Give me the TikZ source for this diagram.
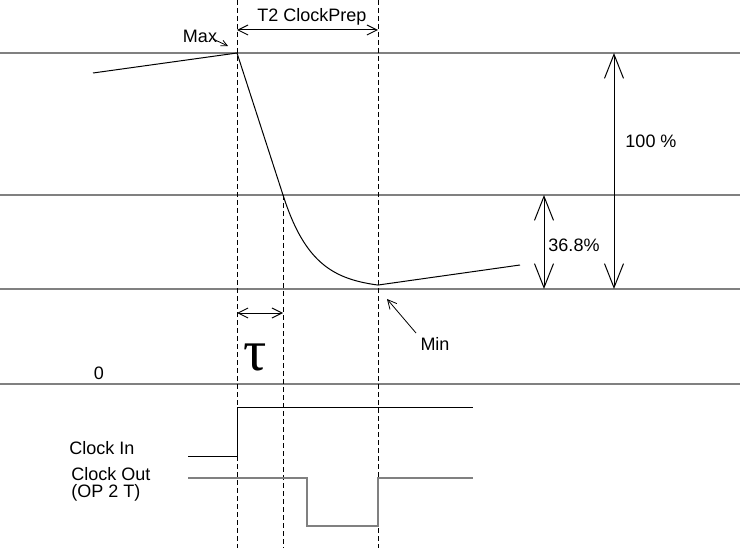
\documentclass[tikz,border=0pt]{standalone}
\usepackage{fontspec}
\setmainfont{Liberation Sans}
\newfontfamily\greekserif{Liberation Serif}
\usetikzlibrary{arrows.meta, positioning}

\begin{document}
\begin{tikzpicture}[x=0.5pt, y=-0.5pt, font=\fontsize{9}{11}\selectfont,
  level/.style={draw=gray, line width=0.8pt},
  guide/.style={draw=black, line width=0.4pt, dash pattern=on 2.5pt off 1.5pt},
  signal/.style={draw=black, line width=0.5pt},
  bigspan/.style={{Straight Barb[length=12pt, width=9.5pt]}-{Straight Barb[length=12pt, width=9.5pt]}, line width=0.5pt},
  smallspan/.style={{Straight Barb[length=5pt, width=5pt]}-{Straight Barb[length=5pt, width=5pt]}, line width=0.5pt},
  pointer/.style={-{Straight Barb[length=3pt, width=3pt]}, line width=0.4pt}]
\useasboundingbox (0,0) rectangle (740,551);

% Levels
\draw[level] (0,53) -- (740,53);
\draw[level] (0,195) -- (740,195);
\draw[level] (0,289) -- (740,289);
\draw[level] (0,384) -- (740,384);
\node (zero) at (99,373) {0};

% Key points of the curve
\coordinate (start) at (93,73);
\coordinate (max) at (237,53);
\coordinate (knee) at (283,195);
\coordinate (min) at (378,289);
\coordinate (tail) at (520,265);

% Time marks
\draw[guide] (237,0) -- (237,548);
\draw[guide] (knee) -- (283,548);
\draw[guide] (378,0) -- (378,548);

% Curve
\draw[signal] (start) -- (max) -- (knee);
\draw[signal] plot[domain=283:378, samples=80] (\x,{289-94*exp(-(\x-283)/30)}) -- (tail);

% T2 ClockPrep
\coordinate (prepL) at (237,30);
\coordinate (prepR) at (378,30);
\draw[smallspan] (prepL) -- (prepR);
\node (prep) at (312,17) {T2 ClockPrep};

% Max
\node (maxlbl) at (200,36) {Max};
\coordinate (maxtip) at (228,46);
\draw[pointer] (213,39) -- (maxtip);

% Min
\node (minlbl) at (435,344) {Min};
\coordinate (minfoot) at (416,333);
\draw[-{Straight Barb[length=4.5pt, width=4.5pt]}, line width=0.4pt] (minfoot) -- (387,299);

% Spans
\coordinate (topA) at (614,53);
\coordinate (lowA) at (614,289);
\draw[bigspan] (topA) -- (lowA);
\node (full) at (651,141) {100 \%};
\coordinate (topB) at (544,195);
\coordinate (lowB) at (544,289);
\draw[bigspan] (topB) -- (lowB);
\node (part) at (574,245) {36.8\%};

% Tau
\coordinate (tauL) at (237,313);
\coordinate (tauR) at (283,313);
\draw[smallspan] (tauL) -- (tauR);
\node[font=\greekserif\fontsize{29}{29}\selectfont] (tau) at (255,357) {τ};

% Clock In
\node[anchor=west, inner sep=0pt] (clkin) at (69,448) {Clock In};
\draw[signal] (188,456) -- (237,456) -- (237,407) -- (473,407);

% Clock Out
\node[anchor=north west, inner sep=0pt, align=left, font=\fontsize{9}{8.5}\selectfont] (clkout) at (71,467) {Clock Out\\(OP 2 T)};
\draw[level] (188,478) -- (307,478) -- (307,526) -- (378,526) -- (378,478) -- (473,478);
\end{tikzpicture}
\end{document}
